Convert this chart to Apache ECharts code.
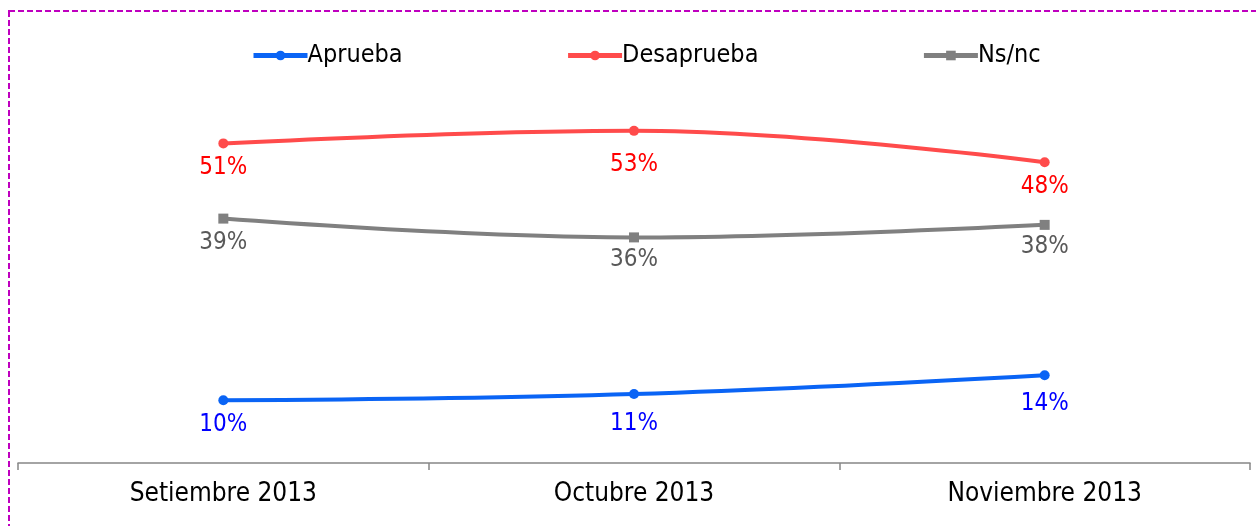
<!DOCTYPE html>
<html>
<head>
<meta charset="utf-8">
<script src="https://cdn.jsdelivr.net/npm/echarts@6/dist/echarts.min.js"></script>
<style>
  html, body { margin: 0; padding: 0; background: #fff; }
  #chart { width: 1256px; height: 526px; }
</style>
</head>
<body>
<div id="chart"></div>
<script>
/* ---------------- DATA ---------------- */

const MONTHS = ["Setiembre 2013", "Octubre 2013", "Noviembre 2013"];

const APRUEBA = [10, 11, 14];
const DESAPRUEBA = [51, 53, 48];
const NSNC = [39, 36, 38];

const FONT = "'DejaVu Sans Condensed', 'DejaVu Sans', sans-serif";

/* ---------------- CHART ---------------- */

const chart = echarts.init(document.getElementById("chart"));

// gap (px) between marker and its label, per point
function makeSeries(name, values, color, labelColor, symbol, gaps) {
    return {
        name: name,
        type: "line",
        smooth: 0.4,
        data: values.map((v, i) => ({ value: v, label: { distance: gaps[i] } })),
        symbol: symbol,
        symbolSize: 10,
        lineStyle: { width: 4, color: color },
        itemStyle: { color: color },
        label: {
            show: true,
            position: "bottom",
            formatter: "{c}%",
            color: labelColor,
            fontFamily: FONT,
            fontSize: 24,
        },
    };
}

chart.setOption({
    animation: false,
    backgroundColor: "#fff",
    graphic: [{
        type: "rect",
        shape: { x: 9, y: 11, width: 1400, height: 700 },
        style: { fill: null, stroke: "#BF00BF", lineWidth: 2, lineDash: [6, 3] },
        silent: true,
    }],
    legend: {
        left: 246,
        top: 38,
        itemWidth: 54,
        itemHeight: 12,
        itemGap: 163,
        lineStyle: { width: 5 },
        textStyle: { fontFamily: FONT, fontSize: 25, color: "#000", padding: [0, 0, 0, -5] },
        data: ["Aprueba", "Desaprueba", "Ns/nc"],
    },
    grid: {
        left: 18,
        right: 6,
        top: 87,
        bottom: 63,
    },
    xAxis: {
        type: "category",
        boundaryGap: true,
        data: MONTHS,
        axisLine: { lineStyle: { color: "#868686", width: 1.5 } },
        axisTick: { show: true, length: 7, lineStyle: { color: "#868686", width: 1.5 } },
        axisLabel: { margin: 18, color: "#000", fontFamily: FONT, fontSize: 26 },
    },
    yAxis: {
        type: "value",
        min: 0,
        max: 60,
        show: false,
    },
    series: [
        makeSeries("Aprueba", APRUEBA, "#0A64F5", "#0000FF", "circle", [7, 13, 11]),
        makeSeries("Desaprueba", DESAPRUEBA, "#FF4B4B", "#FF0000", "circle", [7, 17, 8]),
        makeSeries("Ns/nc", NSNC, "#808080", "#595959", "rect", [7, 5, 5]),
    ],
});
</script>
</body>
</html>
